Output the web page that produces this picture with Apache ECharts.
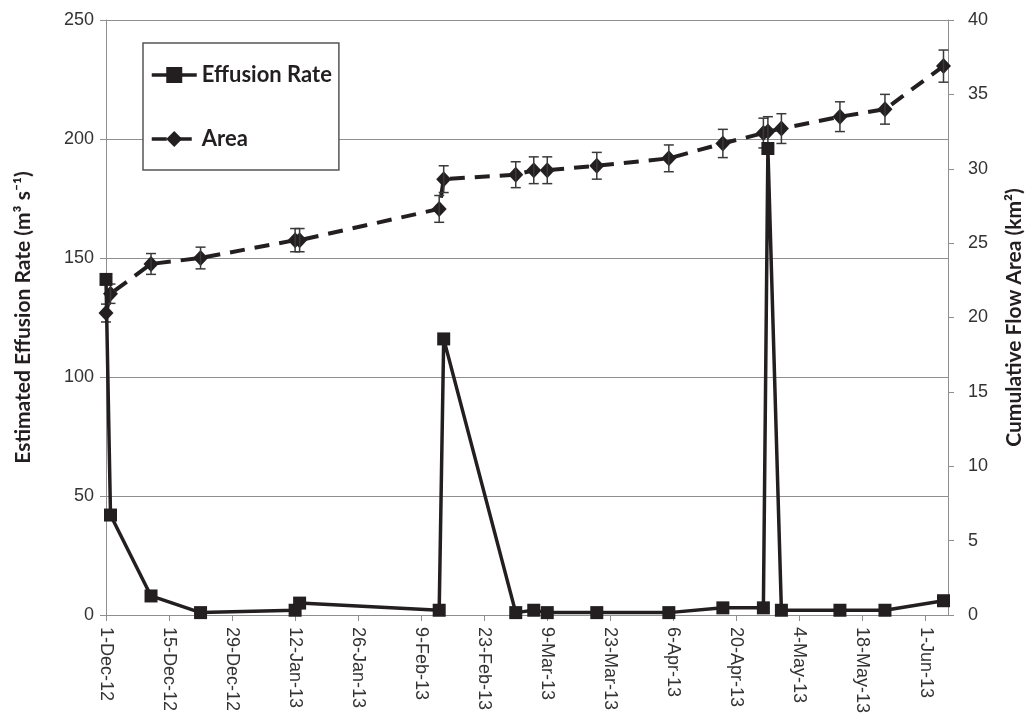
<!DOCTYPE html>
<html>
<head>
<meta charset="utf-8">
<script src="https://cdn.jsdelivr.net/npm/echarts@6/dist/echarts.min.js"></script>
<style>
  html, body { margin: 0; padding: 0; background: #ffffff; }
  #chart { width: 1034px; height: 717px; }
</style>
</head>
<body>
<div id="chart"></div>
<script>
// ---- Data ----
const sampleDates = ['2012-12-01','2012-12-02','2012-12-11','2012-12-22','2013-01-12','2013-01-13',
  '2013-02-13','2013-02-14','2013-03-02','2013-03-06','2013-03-09','2013-03-20','2013-04-05',
  '2013-04-17','2013-04-26','2013-04-27','2013-04-30','2013-05-13','2013-05-23','2013-06-05'];
const effusionRate = [141, 42, 8, 1, 2, 5, 2, 116, 1, 2, 1, 1, 1, 3, 3, 196, 2, 2, 2, 6];
const flowArea = [20.3, 21.6, 23.6, 24.0, 25.2, 25.2, 27.3, 29.3, 29.6, 29.9, 29.9, 30.2, 30.7,
  31.7, 32.4, 32.5, 32.7, 33.5, 34.0, 36.9];
const flowAreaError = [0.6, 0.65, 0.7, 0.73, 0.78, 0.78, 0.9, 0.9, 0.87, 0.9, 0.9, 0.9, 0.9,
  0.95, 1.0, 1.0, 1.0, 1.0, 1.0, 1.08];
const tickDates = ['2012-12-01','2012-12-15','2012-12-29','2013-01-12','2013-01-26','2013-02-09',
  '2013-02-23','2013-03-09','2013-03-23','2013-04-06','2013-04-20','2013-05-04','2013-05-18','2013-06-01'];
const tickLabels = ['1-Dec-12','15-Dec-12','29-Dec-12','12-Jan-13','26-Jan-13','9-Feb-13',
  '23-Feb-13','9-Mar-13','23-Mar-13','6-Apr-13','20-Apr-13','4-May-13','18-May-13','1-Jun-13'];
const axisStart = '2012-12-01';
const axisEnd = '2013-06-06';
const leftTicks = [0, 50, 100, 150, 200, 250];
const rightTicks = [0, 5, 10, 15, 20, 25, 30, 35, 40];

// ---- Helpers ----
const t0 = Date.parse(axisStart + 'T00:00:00Z');
function dayOf(s) { return Math.round((Date.parse(s + 'T00:00:00Z') - t0) / 86400000); }
const tickDays = tickDates.map(dayOf);

const effData = sampleDates.map((d, i) => [dayOf(d), effusionRate[i]]);
const areaData = sampleDates.map((d, i) => [dayOf(d), flowArea[i]]);
const errData = sampleDates.map((d, i) => [dayOf(d), flowArea[i] - flowAreaError[i], flowArea[i] + flowAreaError[i]]);

const ink = '#231f20';
const gridGray = '#8f8f8f';
const labelFont = 'Liberation Sans';
const titleFont = 'Lato';

const chart = echarts.init(document.getElementById('chart'), null, { renderer: 'canvas' });
chart.setOption({
  animation: false,
  backgroundColor: '#ffffff',
  grid: { left: 106, right: 86, top: 20, bottom: 102, containLabel: false },
  legend: {
    orient: 'vertical',
    left: 143, top: 43,
    padding: [21, 7, 20, 7],
    itemGap: 42,
    itemWidth: 45,
    itemHeight: 20,
    borderColor: '#555555',
    borderWidth: 1.5,
    backgroundColor: '#ffffff',
    lineStyle: { width: 3.5 },
    textStyle: { fontFamily: titleFont, fontWeight: 'bold', fontSize: 22, color: ink },
    data: ['Effusion Rate', 'Area']
  },
  xAxis: {
    type: 'value',
    min: 0,
    max: dayOf(axisEnd),
    splitLine: { show: false },
    axisLine: { show: true, onZero: false, lineStyle: { color: gridGray, width: 1 } },
    axisTick: { show: true, customValues: tickDays, length: 6, inside: false, lineStyle: { color: gridGray } },
    axisLabel: {
      customValues: tickDays,
      rotate: -90,
      margin: 12,
      fontFamily: labelFont,
      fontSize: 18,
      color: '#333333',
      formatter: function (v) { const k = tickDays.indexOf(v); return k >= 0 ? tickLabels[k] : ''; }
    }
  },
  yAxis: [
    {
      type: 'value',
      min: leftTicks[0], max: leftTicks[leftTicks.length - 1], interval: 50,
      name: 'Estimated Effusion Rate (m³ s⁻¹)',
      nameLocation: 'middle',
      nameRotate: 90,
      nameGap: 72,
      nameTextStyle: { fontFamily: titleFont, fontWeight: 'bold', fontSize: 21, color: ink },
      axisLine: { show: true, lineStyle: { color: gridGray, width: 1 } },
      axisTick: { show: true, length: 6, lineStyle: { color: gridGray } },
      splitLine: { show: true, lineStyle: { color: gridGray, width: 1 } },
      axisLabel: { margin: 12, fontFamily: labelFont, fontSize: 18, color: '#333333' }
    },
    {
      type: 'value',
      min: rightTicks[0], max: rightTicks[rightTicks.length - 1], interval: 5,
      position: 'right',
      name: 'Cumulative Flow Area (km²)',
      nameLocation: 'middle',
      nameRotate: 90,
      nameGap: 56,
      nameTextStyle: { fontFamily: titleFont, fontWeight: 'bold', fontSize: 21, color: ink },
      axisLine: { show: true, lineStyle: { color: gridGray, width: 1 } },
      axisTick: { show: true, length: 6, lineStyle: { color: gridGray } },
      splitLine: { show: false },
      axisLabel: { margin: 20, fontFamily: labelFont, fontSize: 18, color: '#333333' }
    }
  ],
  series: [
    {
      name: 'Area',
      type: 'line',
      yAxisIndex: 1,
      data: areaData,
      symbol: 'diamond',
      symbolSize: [15, 16],
      itemStyle: { color: ink },
      lineStyle: { color: ink, width: 4, type: [15, 10] },
      z: 3
    },
    {
      name: 'AreaError',
      type: 'custom',
      yAxisIndex: 1,
      data: errData,
      z: 4,
      silent: true,
      renderItem: function (params, api) {
        const x = api.value(0);
        const lo = api.coord([x, api.value(1)]);
        const hi = api.coord([x, api.value(2)]);
        const cw = 5;
        const st = { stroke: '#3a3a3a', lineWidth: 1.5 };
        return {
          type: 'group',
          children: [
            { type: 'line', shape: { x1: lo[0], y1: lo[1], x2: hi[0], y2: hi[1] }, style: st },
            { type: 'line', shape: { x1: lo[0] - cw, y1: lo[1], x2: lo[0] + cw, y2: lo[1] }, style: st },
            { type: 'line', shape: { x1: hi[0] - cw, y1: hi[1], x2: hi[0] + cw, y2: hi[1] }, style: st }
          ]
        };
      },
      encode: { x: 0, y: [1, 2] }
    },
    {
      name: 'Effusion Rate',
      type: 'line',
      yAxisIndex: 0,
      data: effData,
      symbol: 'rect',
      symbolSize: 13,
      itemStyle: { color: ink },
      lineStyle: { color: ink, width: 3.5 },
      z: 5
    }
  ]
});
</script>
</body>
</html>
